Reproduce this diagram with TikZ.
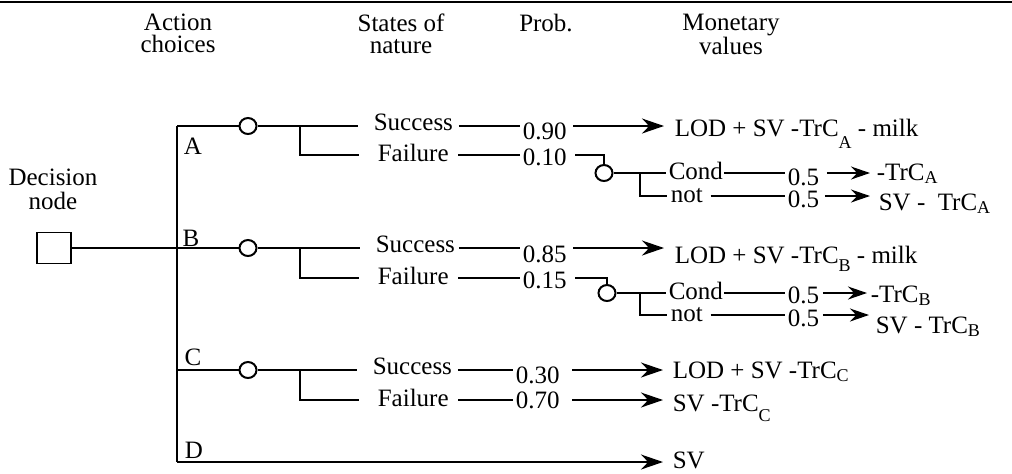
\documentclass[tikz,border=0pt]{standalone}
\usepackage{fontspec}
\setmainfont{Liberation Serif}
\usetikzlibrary{arrows.meta,calc,shapes.geometric}
\newcommand{\lsub}[2][1.5pt]{\raisebox{-#1}{\fontsize{9}{9}\selectfont #2}}
\begin{document}
\begin{tikzpicture}[x=0.5pt,y=-0.5pt, line width=0.8pt,
  every node/.style={font=\fontsize{12.5}{11}\selectfont, inner sep=0pt},
  txt/.style={anchor=base west},
  hdr/.style={anchor=north, align=center},
  chance/.style={ellipse, draw, minimum width=8.5pt, minimum height=8pt, inner sep=0pt, line width=1pt},
  arr/.style={-{Stealth[length=11pt,width=7.5pt]}},
  sarr/.style={-{Stealth[length=9.5pt,width=6.5pt]}},
  lbl/.style={anchor=center}
]
\useasboundingbox (0,0) rectangle (1012,473);
% top rule
\coordinate (tl) at (0,2);
\coordinate (tr) at (1012,2);
\draw[line width=1pt] (tl) -- (tr);
% headers
\node[hdr] (hAct) at (178,13) {Action\\choices};
\node[hdr] (hSt) at (401,13) {States of\\nature};
\node[hdr] (hPr) at (546,13) {Prob.};
\node[hdr] (hMon) at (731,13) {Monetary\\values};
% decision node
\node[hdr, font=\fontsize{12.5}{12}\selectfont] (dlbl) at (53,168) {Decision\\node};
\node[draw, minimum width=17pt, minimum height=15.5pt, line width=0.6pt] (dec) at (54,248) {};
% main vertical
\coordinate (vA) at (177,126);
\coordinate (vB) at (177,248);
\coordinate (vC) at (177,370);
\coordinate (vD) at (177,462);
\draw (vA) -- (vD);
% action labels
\node[lbl] (lA) at (193,146) {A};
\node[lbl] (lB) at (191,238) {B};
\node[lbl] (lC) at (193,357) {C};
\node[lbl] (lD) at (194,450) {D};
% chance nodes
\node[chance] (cA) at (248,126) {};
\node[chance] (cB) at (248,248) {};
\node[chance] (cC) at (248,370) {};
\node[chance] (cAs) at (604,173) {};
\node[chance] (cBs) at (607,293) {};
% branch points
\coordinate (bA) at (300,126);
\coordinate (bAf) at (300,155);
\coordinate (bB) at (300,248);
\coordinate (bBf) at (300,278);
\coordinate (bC) at (300,370);
\coordinate (bCf) at (300,400);
\coordinate (jAs) at (640,173);
\coordinate (jAn) at (640,196);
\coordinate (jBs) at (640,293);
\coordinate (jBn) at (640,315);
% texts row A
\node[txt] (sA) at (373,130) {Success};
\node[txt] (fA) at (377,161) {Failure};
\node[txt] (p90) at (522,139) {0.90};
\node[txt] (p10) at (522,165) {0.10};
\node[txt] (vA1) at (674,136) {LOD + SV -TrC\lsub[6pt]{A} - milk};
\node[txt] (condA) at (668,179) {Cond};
\node[txt] (notA) at (670,202) {not};
\node[txt] (p5a1) at (787,185) {0.5};
\node[txt] (p5a2) at (787,207) {0.5};
\node[txt] (vA2) at (876,180) {-TrC\lsub{A}};
\node[txt] (vA3) at (878,210) {SV -\ \ TrC\lsub{A}};
% texts row B
\node[txt] (sB) at (375,252) {Success};
\node[txt] (fB) at (377,284) {Failure};
\node[txt] (p85) at (522,262) {0.85};
\node[txt] (p15) at (522,288) {0.15};
\node[txt] (vB1) at (674,263) {LOD + SV -TrC\lsub[4pt]{B} - milk};
\node[txt] (condB) at (668,299) {Cond};
\node[txt] (notB) at (670,321) {not};
\node[txt] (p5b1) at (787,303) {0.5};
\node[txt] (p5b2) at (787,326) {0.5};
\node[txt] (vB2) at (870,302) {-TrC\lsub{B}};
\node[txt] (vB3) at (875,333) {SV - TrC\lsub{B}};
% texts row C, D
\node[txt] (sC) at (372,374) {Success};
\node[txt] (fC) at (377,406) {Failure};
\node[txt] (p30) at (515,383) {0.30};
\node[txt] (p70) at (515,408) {0.70};
\node[txt] (vC1) at (672,378) {LOD + SV -TrC\lsub{C}};
\node[txt] (vC2) at (672,411) {SV -TrC\lsub[5pt]{C}};
\node[txt] (vD1) at (672,468) {SV};
% ---- connectors row A
\draw (vA) -- (cA);
\draw (cA) -- (bA) -- ($(sA.west |- bA)+(-15,0)$);
\draw (bA) -- (bAf) -- ($(fA.west |- bAf)+(-18,0)$);
\draw ($(sA.east |- bA)+(5,0)$) -- ($(p90.west |- bA)+(-2,0)$);
\draw[arr] ($(p90.east |- bA)+(6,0)$) -- ($(vA1.west |- bA)+(-10,0)$);
\draw ($(fA.east |- bAf)+(9,0)$) -- ($(p10.west |- bAf)+(-2,0)$);
\draw ($(p10.east |- bAf)+(8,0)$) -| (cAs);
\draw (cAs) -- (jAs) -- ($(condA.west |- jAs)+(-2,0)$);
\draw (jAs) -- (jAn) -- ($(notA.west |- jAn)+(-3,0)$);
\draw (condA.east |- jAs) -- ($(p5a1.west |- jAs)+(-2,0)$);
\draw[sarr] ($(p5a1.east |- jAs)+(7,0)$) -- ($(vA2.west |- jAs)+(-6,0)$);
\draw ($(notA.east |- jAn)+(7,0)$) -- ($(p5a2.west |- jAn)+(-2,0)$);
\draw[sarr] ($(p5a2.east |- jAn)+(5,0)$) -- ($(vA3.west |- jAn)+(-8,0)$);
% ---- connectors row B
\draw (dec) -- (cB);
\draw (cB) -- (bB) -- ($(sB.west |- bB)+(-15,0)$);
\draw (bB) -- (bBf) -- ($(fB.west |- bBf)+(-18,0)$);
\draw ($(sB.east |- bB)+(3,0)$) -- ($(p85.west |- bB)+(-2,0)$);
\draw[arr] ($(p85.east |- bB)+(6,0)$) -- ($(vB1.west |- bB)+(-10,0)$);
\draw ($(fB.east |- bBf)+(9,0)$) -- ($(p15.west |- bBf)+(-2,0)$);
\draw ($(p15.east |- bBf)+(8,0)$) -| (cBs);
\draw (cBs) -- (jBs) -- ($(condB.west |- jBs)+(-2,0)$);
\draw (jBs) -- (jBn) -- ($(notB.west |- jBn)+(-3,0)$);
\draw (condB.east |- jBs) -- ($(p5b1.west |- jBs)+(-2,0)$);
\draw[sarr] ($(p5b1.east |- jBs)+(3,0)$) -- ($(vB2.west |- jBs)+(-3,0)$);
\draw ($(notB.east |- jBn)+(7,0)$) -- ($(p5b2.west |- jBn)+(-2,0)$);
\draw[sarr] ($(p5b2.east |- jBn)+(3,0)$) -- ($(vB3.west |- jBn)+(-6,0)$);
% ---- connectors row C
\draw (vC) -- (cC);
\draw (cC) -- (bC) -- ($(sC.west |- bC)+(-15,0)$);
\draw (bC) -- (bCf) -- ($(fC.west |- bCf)+(-18,0)$);
\draw ($(sC.east |- bC)+(5,0)$) -- ($(p30.west |- bC)+(-2,0)$);
\draw[arr] ($(p30.east |- bC)+(12,0)$) -- ($(vC1.west |- bC)+(-9,0)$);
\draw ($(fC.east |- bCf)+(9,0)$) -- ($(p70.west |- bCf)+(-2,0)$);
\draw[arr] ($(p70.east |- bCf)+(12,0)$) -- ($(vC2.west |- bCf)+(-9,0)$);
% ---- row D
\draw[arr] (vD) -- ($(vD1.west |- vD)+(-9,0)$);
\end{tikzpicture}
\end{document}
